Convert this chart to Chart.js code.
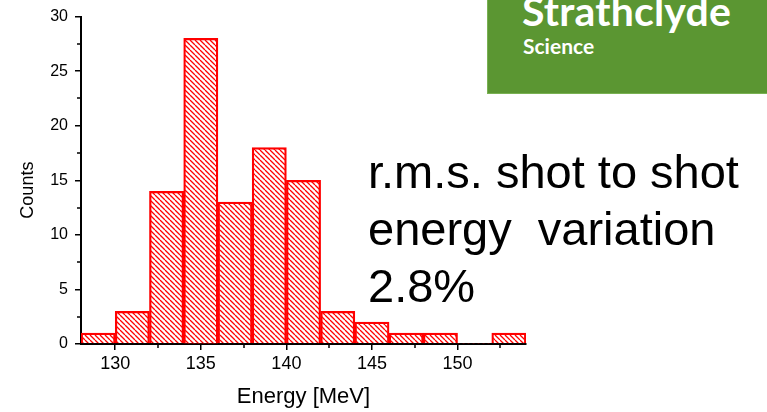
<!DOCTYPE html>
<html>
<head>
<meta charset="utf-8">
<script src="https://cdn.jsdelivr.net/npm/chart.js@4.4.1/dist/chart.umd.min.js"></script>
<style>
  html, body { margin: 0; padding: 0; background: #fff; }
  #wrap { position: relative; width: 767px; height: 412px; overflow: hidden; }
  canvas { position: absolute; left: 0; top: 0; }
  #logo {
    position: absolute; left: 487px; top: 0; width: 280px; height: 94px;
    background: #5b9632; border-bottom: 1px solid #79b152; border-left: 1px solid #79b152;
    box-sizing: border-box; color: #fff; font-family: Lato, "Open Sans", sans-serif; font-weight: 700;
  }
  #logo .l1 { position: absolute; left: 34px; top: -13px; font-size: 41px; line-height: 48px; letter-spacing: 0.2px; }
  #logo .l2 { position: absolute; left: 35px; top: 33px; font-size: 21px; line-height: 26px; }
  #note {
    position: absolute; left: 368px; top: 143px; font-family: "Liberation Sans", Arial, sans-serif;
    font-size: 47px; line-height: 57px; color: #000; white-space: pre;
  }
</style>
</head>
<body>
<div id="wrap">
  <canvas id="c" width="767" height="412"></canvas>
  <div id="logo"><div class="l1">Strathclyde</div><div class="l2">Science</div></div>
  <div id="note">r.m.s. shot to shot
energy  variation
2.8%</div>
</div>
<script>
// Histogram bins: centre energies (MeV) and shot counts per 2 MeV bin
const binCenters = [129, 131, 133, 135, 137, 139, 141, 143, 145, 147, 149, 151, 153];
const counts     = [1, 3, 14, 28, 13, 18, 15, 3, 2, 1, 1, 0, 1];
const xTicks      = [130, 135, 140, 145, 150];
const xMinorTicks = [132.5, 137.5, 142.5, 147.5, 152.5];
const yTicks      = [0, 5, 10, 15, 20, 25, 30];
const yMinorTicks = [2.5, 7.5, 12.5, 17.5, 22.5, 27.5];
const yTitle = 'Counts';
const xTitle = 'Energy [MeV]';

const family = '"Liberation Sans", Arial, sans-serif';

// Diagonal red hatch fill
function hatch() {
  const s = 5;
  const p = document.createElement('canvas');
  p.width = s; p.height = s;
  const g = p.getContext('2d');
  g.strokeStyle = '#ff0000';
  g.lineWidth = 1.3;
  g.beginPath();
  for (const o of [-s, 0, s]) { g.moveTo(o, 0); g.lineTo(o + s, s); }
  g.stroke();
  return g.createPattern(p, 'repeat');
}

const ctx = document.getElementById('c').getContext('2d');
const fill = hatch();

// Short minor tick marks on both axes, plus the vertical axis title
const axisExtras = {
  id: 'axisExtras',
  afterDraw(chart) {
    const c = chart.ctx, xs = chart.scales.x, ys = chart.scales.y;
    c.save();
    c.strokeStyle = '#000';
    c.lineWidth = 1.5;
    c.beginPath();
    for (const v of xMinorTicks) {
      const px = Math.round(xs.getPixelForValue(v));
      c.moveTo(px, ys.bottom); c.lineTo(px, ys.bottom + 4);
    }
    for (const v of yMinorTicks) {
      const py = Math.round(ys.getPixelForValue(v));
      c.moveTo(xs.left, py); c.lineTo(xs.left - 4, py);
    }
    c.stroke();
    c.translate(28, ys.getPixelForValue(14.1));
    c.rotate(-Math.PI / 2);
    c.fillStyle = '#000';
    c.font = '18px ' + family;
    c.textAlign = 'center';
    c.textBaseline = 'middle';
    c.fillText(yTitle, 0, 0);
    c.restore();
  }
};

new Chart(ctx, {
  type: 'bar',
  data: {
    datasets: [{
      data: binCenters.map((x, i) => ({ x, y: counts[i] })),
      backgroundColor: fill,
      borderColor: '#ff0000',
      borderWidth: c => (c.raw && c.raw.y === 0 ? 0 : 1.6),
      borderSkipped: 'start',
      barPercentage: 1,
      categoryPercentage: 1
    }]
  },
  options: {
    responsive: false,
    animation: false,
    devicePixelRatio: 1,
    layout: { padding: { left: 0, top: 15, right: 241, bottom: 0 } },
    plugins: { legend: { display: false }, tooltip: { enabled: false } },
    scales: {
      x: {
        type: 'linear', min: 128, max: 154, offset: false,
        afterBuildTicks: s => { s.ticks = xTicks.map(v => ({ value: v })); },
        afterFit: s => { s.height = 68; },
        grid: { drawOnChartArea: false, drawTicks: true, tickLength: 6, color: '#000', lineWidth: 1.5, offset: false },
        border: { color: '#000', width: 2 },
        ticks: { color: '#000', font: { family, size: 18 }, padding: 3, maxRotation: 0 },
        title: { display: true, text: xTitle, color: '#000',
                 font: { family, size: 22 }, padding: { top: 0, bottom: 2 } }
      },
      y: {
        min: 0, max: 30,
        afterBuildTicks: s => { s.ticks = yTicks.map(v => ({ value: v })); },
        afterFit: s => { s.width = 81; },
        grid: { drawOnChartArea: false, drawTicks: true, tickLength: 6, color: '#000', lineWidth: 1.5 },
        border: { color: '#000', width: 2 },
        ticks: { color: '#000', font: { family, size: 16 }, padding: 7 }
      }
    }
  },
  plugins: [axisExtras]
});
</script>
</body>
</html>
